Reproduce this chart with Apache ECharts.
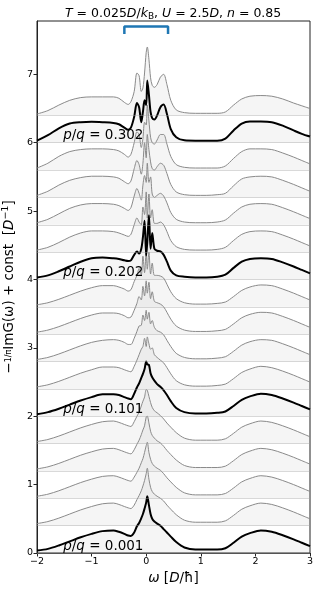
<!DOCTYPE html>
<html><head><meta charset="utf-8">
<script src="https://cdn.jsdelivr.net/npm/echarts@6/dist/echarts.min.js"></script>
<style>html,body{margin:0;padding:0;background:#fff}#c{width:319px;height:589px}</style>
</head><body><div id="c"></div>
<script>
// frequency grid (D/hbar)
const omega = [-2.0,-1.8,-1.6,-1.4,-1.2,-1.0,-0.8,-0.6,-0.5,-0.4,-0.33,-0.28,-0.22,-0.17,-0.13,-0.09,-0.06,-0.03,0.0,0.02,0.05,0.08,0.11,0.15,0.2,0.26,0.32,0.38,0.45,0.55,0.7,0.9,1.1,1.3,1.45,1.6,1.75,1.9,2.1,2.3,2.5,2.7,2.85,3.0];
// vertical offsets of each spectrum
const offsets = [0,0.4,0.8,1.2,1.6,2.0,2.4,2.8,3.2,3.6,4.0,4.4,4.8,5.2,5.6,6.0,6.4];
const highlighted = [0,5,10,15];
const pqLabels = ['0.001','0.101','0.202','0.302'];
const labelOffsets = [0,2,4,6];
const yTicks = [0,1,2,3,4,5,6,7];
const xTicks = [-2,-1,0,1,2,3];
const bracketX = [-0.4,0.4];
const bracketY = [7.59,7.70];

const A0  = [0.035,0.06,0.11,0.17,0.23,0.28,0.32,0.33,0.31,0.28,0.255,0.25,0.30,0.39,0.44,0.51,0.57,0.65,0.74,0.83,0.70,0.57,0.50,0.46,0.43,0.40,0.35,0.30,0.24,0.16,0.08,0.05,0.05,0.05,0.07,0.15,0.24,0.29,0.33,0.31,0.26,0.20,0.15,0.10];
const A1  = [0.03,0.06,0.11,0.17,0.23,0.28,0.32,0.33,0.31,0.28,0.26,0.25,0.30,0.38,0.44,0.51,0.58,0.66,0.76,0.84,0.68,0.56,0.50,0.46,0.43,0.40,0.36,0.30,0.24,0.16,0.08,0.05,0.05,0.05,0.07,0.15,0.24,0.29,0.33,0.31,0.26,0.20,0.15,0.10];
const A2  = [0.03,0.06,0.11,0.17,0.23,0.28,0.32,0.33,0.31,0.28,0.26,0.25,0.31,0.38,0.44,0.52,0.58,0.67,0.77,0.82,0.67,0.57,0.51,0.47,0.44,0.41,0.36,0.30,0.24,0.16,0.08,0.05,0.05,0.05,0.07,0.15,0.24,0.29,0.33,0.31,0.26,0.20,0.15,0.10];
const A3  = [0.03,0.06,0.11,0.17,0.23,0.28,0.32,0.33,0.31,0.28,0.26,0.25,0.31,0.39,0.45,0.53,0.60,0.66,0.79,0.80,0.70,0.58,0.52,0.48,0.44,0.41,0.36,0.30,0.24,0.16,0.08,0.05,0.05,0.05,0.07,0.15,0.24,0.29,0.33,0.31,0.26,0.20,0.15,0.10];
const A4  = [0.03,0.06,0.11,0.17,0.23,0.28,0.32,0.33,0.31,0.28,0.26,0.25,0.32,0.40,0.46,0.55,0.62,0.68,0.79,0.78,0.69,0.60,0.53,0.48,0.45,0.41,0.36,0.30,0.24,0.16,0.08,0.05,0.05,0.05,0.07,0.15,0.24,0.29,0.33,0.31,0.26,0.20,0.15,0.10];
const A5  = [0.03,0.06,0.11,0.17,0.23,0.28,0.32,0.32,0.31,0.28,0.26,0.25,0.33,0.42,0.48,0.56,0.62,0.69,0.80,0.76,0.75,0.63,0.57,0.52,0.47,0.43,0.38,0.31,0.22,0.12,0.06,0.04,0.04,0.05,0.07,0.15,0.24,0.29,0.33,0.31,0.26,0.20,0.15,0.10];
const A6  = [0.03,0.06,0.11,0.17,0.23,0.28,0.32,0.32,0.31,0.28,0.26,0.25,0.33,0.42,0.50,0.58,0.62,0.74,0.62,0.76,0.66,0.58,0.60,0.50,0.46,0.42,0.38,0.31,0.22,0.12,0.06,0.04,0.04,0.05,0.07,0.15,0.24,0.29,0.33,0.31,0.26,0.20,0.15,0.10];
const A7  = [0.03,0.06,0.11,0.17,0.23,0.28,0.31,0.32,0.31,0.28,0.25,0.25,0.34,0.44,0.52,0.53,0.68,0.60,0.75,0.62,0.72,0.55,0.60,0.50,0.45,0.43,0.39,0.31,0.22,0.12,0.06,0.04,0.04,0.05,0.07,0.15,0.24,0.29,0.32,0.31,0.26,0.20,0.15,0.10];
const A8  = [0.03,0.06,0.11,0.17,0.23,0.28,0.31,0.31,0.30,0.27,0.24,0.25,0.35,0.45,0.55,0.50,0.70,0.56,0.78,0.60,0.76,0.52,0.62,0.48,0.46,0.44,0.40,0.32,0.22,0.12,0.06,0.04,0.04,0.05,0.07,0.15,0.24,0.29,0.32,0.31,0.26,0.20,0.15,0.10];
const A9  = [0.03,0.06,0.11,0.17,0.23,0.28,0.31,0.31,0.29,0.26,0.23,0.25,0.37,0.46,0.56,0.47,0.74,0.50,0.82,0.55,0.80,0.48,0.64,0.46,0.46,0.45,0.42,0.33,0.22,0.12,0.06,0.04,0.04,0.05,0.07,0.15,0.24,0.29,0.32,0.31,0.26,0.20,0.15,0.10];
const A10 = [0.03,0.06,0.12,0.19,0.26,0.31,0.32,0.31,0.30,0.28,0.27,0.28,0.36,0.41,0.38,0.45,0.62,0.86,0.35,0.55,0.94,0.45,0.68,0.45,0.42,0.41,0.36,0.26,0.13,0.06,0.04,0.03,0.03,0.04,0.07,0.17,0.26,0.30,0.31,0.30,0.25,0.19,0.14,0.09];
const A11 = [0.03,0.07,0.14,0.22,0.28,0.31,0.31,0.30,0.28,0.25,0.23,0.26,0.40,0.50,0.44,0.40,0.66,0.55,0.88,0.50,0.85,0.50,0.62,0.42,0.42,0.44,0.40,0.30,0.17,0.08,0.04,0.03,0.03,0.04,0.07,0.17,0.26,0.30,0.31,0.30,0.25,0.19,0.14,0.09];
const A12 = [0.03,0.08,0.16,0.24,0.29,0.31,0.31,0.30,0.28,0.24,0.21,0.25,0.42,0.53,0.46,0.36,0.58,0.72,0.62,0.90,0.62,0.70,0.45,0.40,0.43,0.46,0.42,0.32,0.18,0.08,0.04,0.03,0.03,0.04,0.07,0.17,0.26,0.30,0.31,0.30,0.25,0.19,0.14,0.09];
const A13 = [0.03,0.09,0.18,0.25,0.29,0.31,0.31,0.30,0.28,0.23,0.20,0.24,0.42,0.54,0.48,0.34,0.50,0.80,0.58,0.92,0.70,0.52,0.42,0.40,0.45,0.50,0.47,0.35,0.19,0.08,0.04,0.03,0.03,0.04,0.06,0.17,0.27,0.30,0.31,0.30,0.25,0.19,0.14,0.09];
const A14 = [0.03,0.10,0.20,0.27,0.30,0.31,0.31,0.30,0.28,0.23,0.19,0.23,0.40,0.56,0.52,0.33,0.46,0.70,0.66,0.95,0.72,0.48,0.40,0.38,0.44,0.52,0.52,0.38,0.20,0.08,0.04,0.03,0.03,0.03,0.06,0.17,0.27,0.31,0.31,0.30,0.25,0.19,0.14,0.09];
const A15 = [0.03,0.11,0.21,0.28,0.30,0.305,0.30,0.29,0.27,0.22,0.19,0.22,0.38,0.58,0.52,0.30,0.45,0.62,0.55,0.91,0.70,0.45,0.36,0.34,0.40,0.52,0.56,0.42,0.20,0.08,0.035,0.03,0.03,0.03,0.06,0.18,0.28,0.31,0.31,0.30,0.25,0.18,0.13,0.09];
const A16 = [0.02,0.07,0.15,0.22,0.26,0.27,0.27,0.27,0.25,0.19,0.16,0.20,0.35,0.62,0.58,0.35,0.40,0.62,0.92,1.00,0.82,0.55,0.44,0.41,0.45,0.56,0.60,0.45,0.22,0.08,0.04,0.03,0.03,0.03,0.05,0.15,0.24,0.28,0.29,0.28,0.24,0.18,0.14,0.10];

const curves = [A0,A1,A2,A3,A4,A5,A6,A7,A8,A9,A10,A11,A12,A13,A14,A15,A16];

const FONT = 'DejaVu Sans';
const series = [];
curves.forEach((A, k) => {
  const off = offsets[k];
  const black = highlighted.indexOf(k) >= 0;
  series.push({
    type: 'line',
    data: omega.map((w, i) => [w, off + A[i]]),
    smooth: 0.3,
    symbol: 'none',
    silent: true,
    z: black ? 4 : 3,
    lineStyle: { color: black ? '#000000' : '#8a8a8a', width: black ? 2 : 1 },
    areaStyle: { origin: off, color: 'rgba(160,160,160,0.15)' },
    markLine: {
      silent: true, symbol: 'none', label: { show: false },
      lineStyle: { color: 'rgba(160,160,160,0.4)', width: 1, type: 'solid' },
      data: [{ yAxis: off }]
    }
  });
});

series.push({
  type: 'scatter',
  symbolSize: 0,
  z: 6,
  silent: true,
  data: labelOffsets.map(o => [-1.52, o]),
  itemStyle: { color: '#000', opacity: 1 },
  label: {
    show: true,
    position: 'right',
    distance: 0,
    verticalAlign: 'bottom',
    formatter: p => '{i|p}/{i|q} = ' + pqLabels[p.dataIndex],
    fontFamily: FONT, fontSize: 13.5, color: '#000',
    rich: { i: { fontStyle: 'italic', fontFamily: FONT, fontSize: 13.5, color: '#000' } }
  }
});

series.push({
  type: 'line',
  symbol: 'none',
  silent: true,
  z: 7,
  data: [[bracketX[0], bracketY[0]], [bracketX[0], bracketY[1]], [bracketX[1], bracketY[1]], [bracketX[1], bracketY[0]]],
  lineStyle: { color: '#1f77b4', width: 2.5 }
});

const chart = echarts.init(document.getElementById('c'), null, { renderer: 'canvas' });
chart.setOption({
  animation: false,
  backgroundColor: '#ffffff',
  title: {
    text: '{i|T} = 0.025{i|D}/{i|k}{s|B}, {i|U} = 2.5{i|D}, {i|n} = 0.85',
    left: 60, top: 1,
    textStyle: {
      fontFamily: FONT, fontSize: 12.5, fontWeight: 'normal', color: '#000',
      rich: {
        i: { fontStyle: 'italic', fontFamily: FONT, fontSize: 12.5, color: '#000' },
        s: { fontFamily: FONT, fontSize: 9, color: '#000', padding: [6, 0, 0, 0] }
      }
    }
  },
  grid: { left: 37, right: 9, top: 21, bottom: 36, show: true, borderColor: '#222', borderWidth: 1, backgroundColor: 'transparent', containLabel: false, outerBoundsMode: 'none' },
  xAxis: {
    type: 'value', min: -2, max: 3, interval: 1,
    name: '{i|ω} [{i|D}/ħ]', nameLocation: 'middle', nameGap: 18,
    nameTextStyle: { fontFamily: FONT, fontSize: 13.5, color: '#000', rich: { i: { fontStyle: 'italic', fontFamily: FONT, fontSize: 13.5, color: '#000' } } },
    axisLine: { show: true, onZero: false, lineStyle: { color: '#222', width: 1 } },
    axisTick: { show: true, inside: false, length: 3.5, lineStyle: { color: '#222' } },
    axisLabel: { fontFamily: FONT, fontSize: 9.5, color: '#000', margin: 4, formatter: v => String(v).replace('-', '\u2212') },
    splitLine: { show: false }
  },
  yAxis: {
    type: 'value', min: 0, max: 7.78,
    name: '\u2212{f|1/π}ImG(ω) + const  [{i|D}{s|\u22121}]', nameLocation: 'middle', nameGap: 19, nameRotate: 90,
    nameTextStyle: { fontFamily: FONT, fontSize: 13.5, color: '#000',
      rich: { f: { fontFamily: FONT, fontSize: 8, color: '#000' }, i: { fontStyle: 'italic', fontFamily: FONT, fontSize: 13.5, color: '#000' }, s: { fontFamily: FONT, fontSize: 9.5, color: '#000', padding: [0, 0, 7, 0] } } },
    axisLine: { show: true, onZero: false, lineStyle: { color: '#222', width: 1 } },
    axisTick: { show: true, inside: false, length: 3.5, customValues: yTicks, lineStyle: { color: '#222' } },
    axisLabel: { fontFamily: FONT, fontSize: 9.5, color: '#000', margin: 4, customValues: yTicks },
    splitLine: { show: false }
  },
  series: series
});
</script></body></html>
